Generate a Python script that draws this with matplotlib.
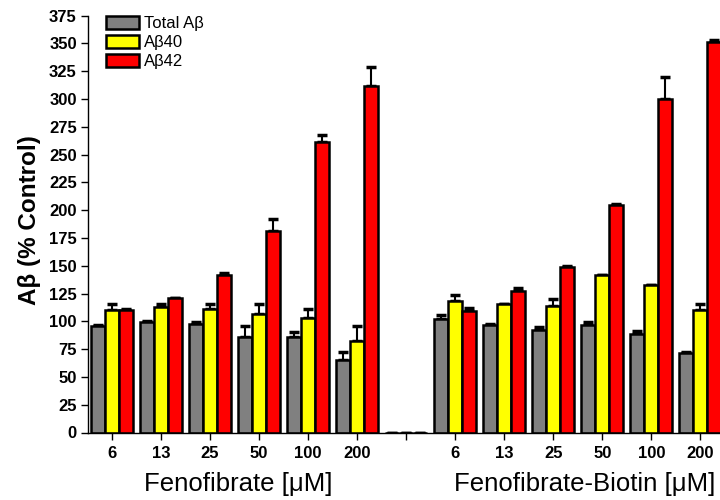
import numpy as np
import matplotlib.pyplot as plt

plt.rcParams['font.family'] = ['Liberation Sans', 'DejaVu Sans']

# tick labels (empty slot in the middle)
doses = ['6', '13', '25', '50', '100', '200', '', '6', '13', '25', '50', '100', '200']

# Fenofibrate, blank, Fenofibrate-Biotin
total_ab = [96, 99, 98, 86, 86, 65.5, 0, 102.5, 96.5, 92, 96.5, 88.5, 71.5]
total_err = [0.5, 1, 1, 10, 4.5, 7, 0, 3, 1, 3, 3, 3, 1]
ab40 = [110, 113, 111, 107, 103, 82, 0, 118, 116, 114, 142, 133, 110]
ab40_err = [5.5, 3, 5, 9, 8, 14, 0, 5.5, 0, 6, 0, 0, 6]
ab42 = [110, 121, 142, 181, 261, 312, 0, 109, 127, 149, 205, 300, 351]
ab42_err = [1.5, 0, 1.5, 11, 7, 17, 0, 3, 3, 1, 1, 20, 2.5]

series = [(total_ab, total_err, '#808080', 'Total A\u03b2'),
          (ab40, ab40_err, '#ffff00', 'A\u03b240'),
          (ab42, ab42_err, '#ff0000', 'A\u03b242')]

fig = plt.figure(figsize=(7.2, 5), dpi=100)
ax = fig.add_axes([0.1222, 0.135, 0.8778, 0.8336])

x = np.arange(len(doses))
w = 0.285
for i, (vals, errs, col, lab) in enumerate(series):
    pos = x + (i - 1) * w
    ax.bar(pos, vals, w, color=col, edgecolor='black', linewidth=1.8, label=lab, zorder=2)
    ax.errorbar(pos, vals, yerr=[np.zeros(len(errs)), errs], fmt='none', ecolor='black',
                elinewidth=1.5, capsize=3.5, capthick=2.5, zorder=1)

ax.set_xlim(-0.49, 12.4)
ax.set_ylim(0, 375)
ax.set_yticks(np.arange(0, 376, 25))
ax.set_xticks(x)
ax.set_xticklabels(doses)
for lbl in ax.get_xticklabels() + ax.get_yticklabels():
    lbl.set_fontweight('bold')
    lbl.set_fontsize(12)
ax.tick_params(axis='both', direction='out', length=5, width=1, pad=3)
ax.tick_params(axis='x', pad=5)
ax.spines['top'].set_visible(False)
ax.spines['right'].set_visible(False)
ax.spines['left'].set_linewidth(1)
ax.spines['bottom'].set_linewidth(1)

fig.text(30 / 720, 1 - 220 / 500, 'A\u03b2 (% Control)', fontsize=17.5, fontweight='bold',
         rotation=90, ha='center', va='center')

fig.text(238 / 720, 1 - 491 / 500, 'Fenofibrate [\u03bcM]', fontsize=18.5, ha='center', va='baseline')
fig.text(585 / 720, 1 - 491 / 500, 'Fenofibrate-Biotin [\u03bcM]', fontsize=18.5, ha='center', va='baseline')

leg = ax.legend(loc='upper left', bbox_to_anchor=(106 / 720, 1 - 16 / 500),
                bbox_transform=fig.transFigure, frameon=False, fontsize=12,
                handlelength=1.95, handleheight=0.85, handletextpad=0.3, labelspacing=0.2,
                borderaxespad=0, borderpad=0)

plt.savefig('out.png', dpi=100)
